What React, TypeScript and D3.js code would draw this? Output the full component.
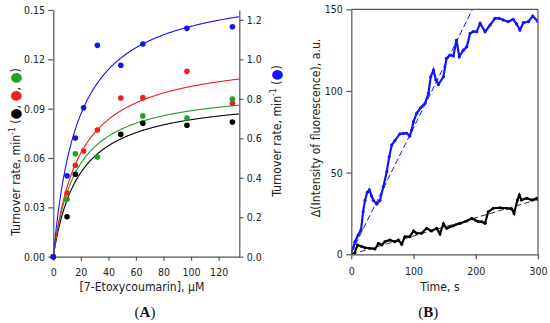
import React, { useEffect, useRef } from "react";
import * as d3 from "d3";

// ---------- Panel A data ----------
const concA = [0, 10, 16, 22, 32, 49, 65, 97, 130];
const blueA = [0, 0.41, 0.601, 0.755, 1.071, 0.97, 1.078, 1.157, 1.165]; // right axis
const redX = [0, 10, 16, 22, 32, 49, 65, 97, 130];
const redA = [0, 0.0387, 0.0556, 0.0643, 0.077, 0.0965, 0.0967, 0.1127, 0.0933];
const greenX = [0, 10, 16, 32, 65, 97, 130];
const greenA = [0, 0.0349, 0.0626, 0.0606, 0.0856, 0.0843, 0.0959];
const blackX = [0, 10, 16, 49, 65, 97, 130];
const blackA = [0, 0.0243, 0.0501, 0.0744, 0.0811, 0.0799, 0.0819];
// Michaelis-Menten fit parameters [Vmax, Km]
const fitBlue = [1.38, 18.2];
const fitRed = [0.1233, 19.1];
const fitGreen = [0.1033, 16.4];
const fitBlack = [0.0988, 18.6];

const aLeftTicks = [0, 0.03, 0.06, 0.09, 0.12, 0.15];
const aRightTicks = [0, 0.2, 0.4, 0.6, 0.8, 1.0, 1.2];
const aBottomTicks = [0, 20, 40, 60, 80, 100, 120];

// ---------- Panel B data ----------
const blueT = [0, 3, 6, 11, 15.6, 19, 22, 25.7, 29, 32.7, 35.5, 41, 46, 51.5, 57, 61, 65, 70, 78, 83.6, 89, 94, 97, 100, 105, 112, 118.5, 124, 127.6, 132, 136, 140, 148, 153, 158.6, 164, 169, 173.5, 180, 185.5, 191, 196, 201.5, 207, 215, 223, 231, 237.4, 244, 252, 260, 265.7, 271, 276.5, 284.5, 291.5, 300];
const blueV = [2, 4, 7.7, 11.8, 14.9, 26, 33, 38, 39.4, 35.7, 33, 30.8, 33, 41.4, 50.6, 59.8, 66.9, 69.6, 73.7, 74, 74.1, 72.4, 76.1, 81.2, 86.3, 90, 92.4, 98.6, 108.7, 112.8, 106.7, 104, 108.7, 120, 122, 121.4, 131.2, 121, 125, 127, 135.3, 136.3, 136.3, 141.4, 136.3, 140.4, 144.5, 144.5, 143.5, 142.4, 143.9, 141, 137.3, 141.8, 142.4, 145.9, 142.4];
const blackT = [0, 5, 10, 17, 22, 30, 38, 43.5, 49, 54, 62, 70, 75.5, 81, 86, 94, 100, 105, 113, 121, 129, 137, 142.5, 148, 153, 164, 175, 185.5, 193.5, 199, 204, 209.5, 215, 220, 228, 239, 250, 258, 261.5, 267, 270, 273.5, 282, 290, 298, 300];
const blackV = [0, 0.6, 5.7, 4.7, 4, 3.7, 3.2, 6.7, 5.7, 7.7, 8.8, 7.7, 8.8, 6.1, 10.8, 10.8, 14.3, 12.9, 12.9, 15.9, 14.3, 15.9, 12.5, 18.7, 15.9, 17.5, 19, 20.4, 22, 21, 20, 20, 19, 26, 28.2, 28.5, 28.2, 27.7, 25, 33.2, 36.3, 33.2, 34.3, 33.2, 34.3, 33.5];
// linear fits [intercept, slope]
const linBlue = [1, 0.765];
const linBlack = [0, 0.112];

const bLeftTicks = [0, 50, 100, 150];
const bBottomTicks = [0, 100, 200, 300];

const FONT = "'DejaVu Sans Condensed', 'Liberation Sans', sans-serif";
const AXC = "#555";
const TXT = "#222";
const BLUE = "#1414f5";
const RED = "#f01e1e";
const GREEN = "#22a022";
const BLACK = "#000";

export default function App() {
  // scales panel A
  const xA = d3.scaleLinear().domain([0, 135]).range([53.3, 239.3]);
  const yA = d3.scaleLinear().domain([0, 0.15]).range([256.7, 10]);
  const yAR = d3.scaleLinear().domain([0, 1.25]).range([256.7, 10]);
  // scales panel B
  const xB = d3.scaleLinear().domain([0, 300]).range([351.3, 538]);
  const yB = d3.scaleLinear().domain([0, 150]).range([254.3, 9.3]);

  const rAL = useRef(null);
  const rAR = useRef(null);
  const rAB = useRef(null);
  const rBL = useRef(null);
  const rBB = useRef(null);

  useEffect(() => {
    const style = (sel: any) => {
      sel.attr("font-family", FONT).attr("font-size", 10.5);
      sel.selectAll("path, line").attr("stroke", AXC).attr("stroke-width", 1.2);
      sel.selectAll("text").attr("fill", TXT);
    };
    style(d3.select(rAL.current).call(d3.axisLeft(yA).tickValues(aLeftTicks).tickFormat(d3.format(".2f")).tickSize(5).tickSizeOuter(0).tickPadding(3.3) as any));
    style(d3.select(rAR.current).call(d3.axisRight(yAR).tickValues(aRightTicks).tickFormat(d3.format(".1f")).tickSize(4).tickSizeOuter(0).tickPadding(3.4) as any));
    style(d3.select(rAB.current).call(d3.axisBottom(xA).tickValues(aBottomTicks).tickSize(4).tickSizeOuter(0).tickPadding(8) as any));
    style(d3.select(rBL.current).call(d3.axisLeft(yB).tickValues(bLeftTicks).tickSize(5).tickSizeOuter(0).tickPadding(3.6) as any));
    style(d3.select(rBB.current).call(d3.axisBottom(xB).tickValues(bBottomTicks).tickSize(5).tickSizeOuter(0).tickPadding(8.5) as any));
  }, []);

  const xsFit = d3.range(0, 135.01, 0.5);
  const mmLine = (p: number[], ys: any) =>
    d3.line<number>().x((d) => xA(d)).y((d) => ys((p[0] * d) / (p[1] + d)))(xsFit) || "";

  const traceLine = (ts: number[], vs: number[]) =>
    d3.line<number>().x((d) => xB(d)).y((_, i) => yB(vs[i]))(ts) || "";

  const linPath = (p: number[]) => {
    const tEnd = Math.min(300, (150 - p[0]) / p[1]);
    return d3.line<number>().x((d) => xB(d)).y((d) => yB(p[0] + p[1] * d))([0, tEnd]) || "";
  };

  const dots = (xs: number[], ys: number[], sx: any, sy: any, color: string, r: number) =>
    xs.map((x, i) => <circle key={i} cx={sx(x)} cy={sy(ys[i])} r={r} fill={color} />);

  return (
    <svg width={550} height={323} style={{ position: "absolute", left: 0, top: 0, background: "#fff" }}>
      <defs>
        <clipPath id="clipA">
          <rect x={53.3} y={10} width={186} height={246.7} />
        </clipPath>
        <clipPath id="clipB">
          <rect x={351.3} y={9.3} width={186.7} height={245} />
        </clipPath>
      </defs>

      {/* Panel A */}
      <g clipPath="url(#clipA)" fill="none" strokeWidth={1.1}>
        <path d={mmLine(fitBlack, yA)} stroke={BLACK} />
        <path d={mmLine(fitGreen, yA)} stroke={GREEN} />
        <path d={mmLine(fitRed, yA)} stroke={RED} />
        <path d={mmLine(fitBlue, yAR)} stroke={BLUE} />
      </g>
      <g ref={rAL} transform="translate(53.3,0)" />
      <g ref={rAR} transform="translate(239.3,0)" />
      <g ref={rAB} transform="translate(0,256.7)" />
      <g>
        {dots(blackX, blackA, xA, yA, BLACK, 2.8)}
        {dots(redX, redA, xA, yA, RED, 2.8)}
        {dots(greenX, greenA, xA, yA, GREEN, 2.8)}
        {dots(concA, blueA, xA, yAR, BLUE, 2.8)}
      </g>
      <text x={142} y={290.5} textAnchor="middle" fontFamily={FONT} fontSize={12.2} fill={TXT}>
        [7-Etoxycoumarin], μM
      </text>
      <text transform="translate(19.5,152) rotate(-90)" textAnchor="middle" fontFamily={FONT} fontSize={12.2} fill={TXT}>
        Turnover rate, min<tspan fontSize={8.5} dy={-5}>-1</tspan>
        <tspan dy={5}> (</tspan>
        <tspan fill={BLACK} fontSize={14}>●</tspan>,{" "}
        <tspan fill={RED} fontSize={14}>●</tspan>,{" "}
        <tspan fill={GREEN} fontSize={14}>●</tspan>)
      </text>
      <text transform="translate(280.5,131) rotate(-90)" textAnchor="middle" fontFamily={FONT} fontSize={12.2} fill={TXT}>
        Turnover rate, min<tspan fontSize={8.5} dy={-5}>-1</tspan>
        <tspan dy={5}> (</tspan>
        <tspan fill={BLUE} fontSize={14}>●</tspan>)
      </text>
      <text x={145} y={317} textAnchor="middle" fontFamily="'Liberation Serif', serif" fontSize={15} fill="#111">
        (<tspan fontWeight="bold">A</tspan>)
      </text>

      {/* Panel B */}
      <g clipPath="url(#clipB)">
        <path d={linPath(linBlack)} stroke="#333" strokeWidth={1} strokeDasharray="6,3" fill="none" />
        <path d={traceLine(blackT, blackV)} stroke={BLACK} strokeWidth={2.2} fill="none" />
        {dots(blackT, blackV, xB, yB, BLACK, 1.5)}
        <path d={linPath(linBlue)} stroke={BLUE} strokeWidth={1} strokeDasharray="6,3" fill="none" />
        <path d={traceLine(blueT, blueV)} stroke={BLUE} strokeWidth={2.2} fill="none" />
        {dots(blueT, blueV, xB, yB, BLUE, 1.6)}
      </g>
      <line x1={351.3} x2={538} y1={9.3} y2={9.3} stroke={AXC} strokeWidth={1.2} />
      <line x1={538} x2={538} y1={9.3} y2={254.3} stroke={AXC} strokeWidth={1.2} />
      <g ref={rBL} transform="translate(351.3,0)" />
      <g ref={rBB} transform="translate(0,254.3)" />
      <text x={440} y={290.5} textAnchor="middle" fontFamily={FONT} fontSize={12.2} fill={TXT}>
        Time, s
      </text>
      <text transform="translate(319.5,128) rotate(-90)" textAnchor="middle" fontFamily={FONT} fontSize={12.2} fill={TXT}>
        Δ(Intensity of fluorescence), a.u.
      </text>
      <text x={428.3} y={317} textAnchor="middle" fontFamily="'Liberation Serif', serif" fontSize={15} fill="#111">
        (<tspan fontWeight="bold">B</tspan>)
      </text>
    </svg>
  );
}
